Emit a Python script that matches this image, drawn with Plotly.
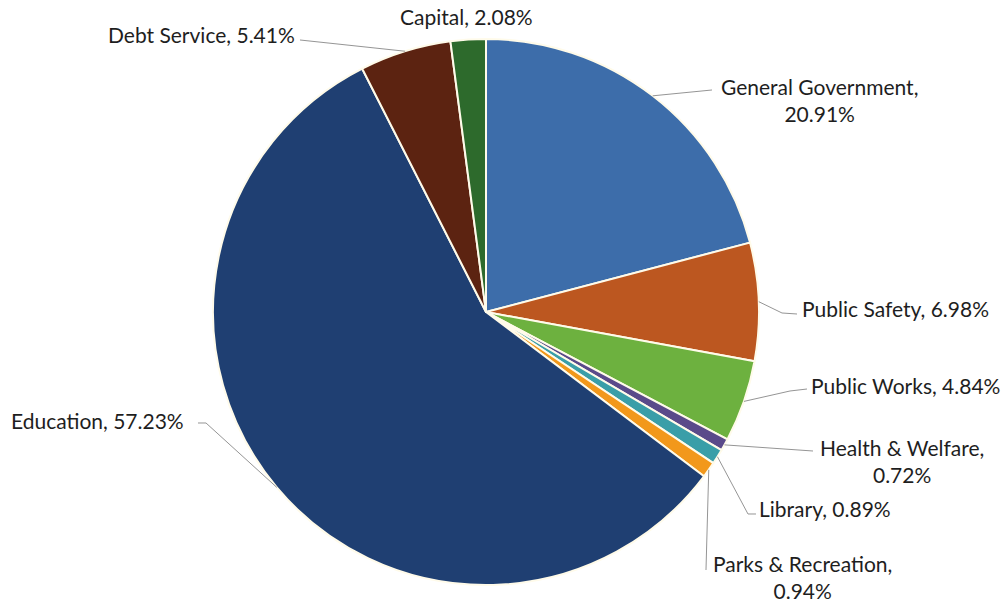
import math
import plotly.graph_objects as go

# Budget shares by function (percent of total), clockwise from 12 o'clock
categories = [
    "General Government", "Public Safety", "Public Works", "Health & Welfare",
    "Library", "Parks & Recreation", "Education", "Debt Service", "Capital",
]
shares = [20.91, 6.98, 4.84, 0.72, 0.89, 0.94, 57.23, 5.41, 2.08]
colors = [
    "#3D6DAA", "#BC5720", "#6DB13F", "#5A4A8A",
    "#3A9EA8", "#F2981B", "#1F3F72", "#5C2311", "#2D6A2C",
]

W, H = 1007, 603
CX, CY, R = 486, 312, 273  # pie centre and radius in pixels


def to_paper(x, y):
    return x / W, 1 - y / H


# Label placement (pixels): anchor point, horizontal anchor, wrapped or not,
# and leader-line waypoints after the point on the slice edge.
label_layout = {
    "General Government": dict(pos=(819, 100), xanchor="center", wrap=True, path=[(712, 90)]),
    "Public Safety": dict(pos=(800, 308), xanchor="left", wrap=False, path=[(782, 313), (797, 314)]),
    "Public Works": dict(pos=(809, 385), xanchor="left", wrap=False, path=[(790, 391), (807, 389)]),
    "Health & Welfare": dict(pos=(902, 461), xanchor="center", wrap=True, path=[(813, 451)]),
    "Library": dict(pos=(757, 508), xanchor="left", wrap=False, path=[(748, 514), (756, 514)]),
    "Parks & Recreation": dict(pos=(802, 577), xanchor="center", wrap=True, path=[(706, 570)]),
    "Education": dict(pos=(9, 420), xanchor="left", wrap=False, path=[(206, 423), (198, 423)]),
    "Debt Service": dict(pos=(106, 35), xanchor="left", wrap=False, path=[(300, 40)]),
    "Capital": dict(pos=(398, 17), xanchor="left", wrap=False, path=[]),
}

x0, y0 = to_paper(CX - R, CY + R)
x1, y1 = to_paper(CX + R, CY - R)

fig = go.Figure(
    go.Pie(
        labels=categories,
        values=shares,
        sort=False,
        direction="clockwise",
        rotation=0,
        marker=dict(colors=colors, line=dict(color="#FFFBEA", width=2)),
        textinfo="none",
        hoverinfo="label+percent",
        domain=dict(x=[x0, x1], y=[y0, y1]),
        showlegend=False,
    )
)

total = sum(shares)
cum = 0.0
shapes, annotations = [], []
for name, val in zip(categories, shares):
    mid = (cum + val / 2) / total * 2 * math.pi
    cum += val
    ex = CX + R * math.sin(mid)
    ey = CY - R * math.cos(mid)
    spec = label_layout[name]
    pts = [(ex, ey)] + spec["path"]
    if len(pts) > 1:
        d = ""
        for i, (px, py) in enumerate(pts):
            fx, fy = to_paper(px, py)
            d += ("M" if i == 0 else "L") + f"{fx:.5f},{fy:.5f} "
        shapes.append(dict(type="path", xref="paper", yref="paper", path=d.strip(),
                           line=dict(color="#959595", width=1)))
    sep = ",<br>" if spec["wrap"] else ", "
    tx, ty = to_paper(*spec["pos"])
    annotations.append(dict(
        x=tx, y=ty, xref="paper", yref="paper",
        text=f"{name}{sep}{val:.2f}%",
        showarrow=False, xanchor=spec["xanchor"], yanchor="middle",
        align="center",
        font=dict(family="Lato", size=21, color="#1E1E1E"),
    ))

fig.update_layout(
    width=W, height=H,
    margin=dict(l=0, r=0, t=0, b=0),
    paper_bgcolor="white",
    plot_bgcolor="white",
    shapes=shapes,
    annotations=annotations,
)

fig.write_html("out.html")
